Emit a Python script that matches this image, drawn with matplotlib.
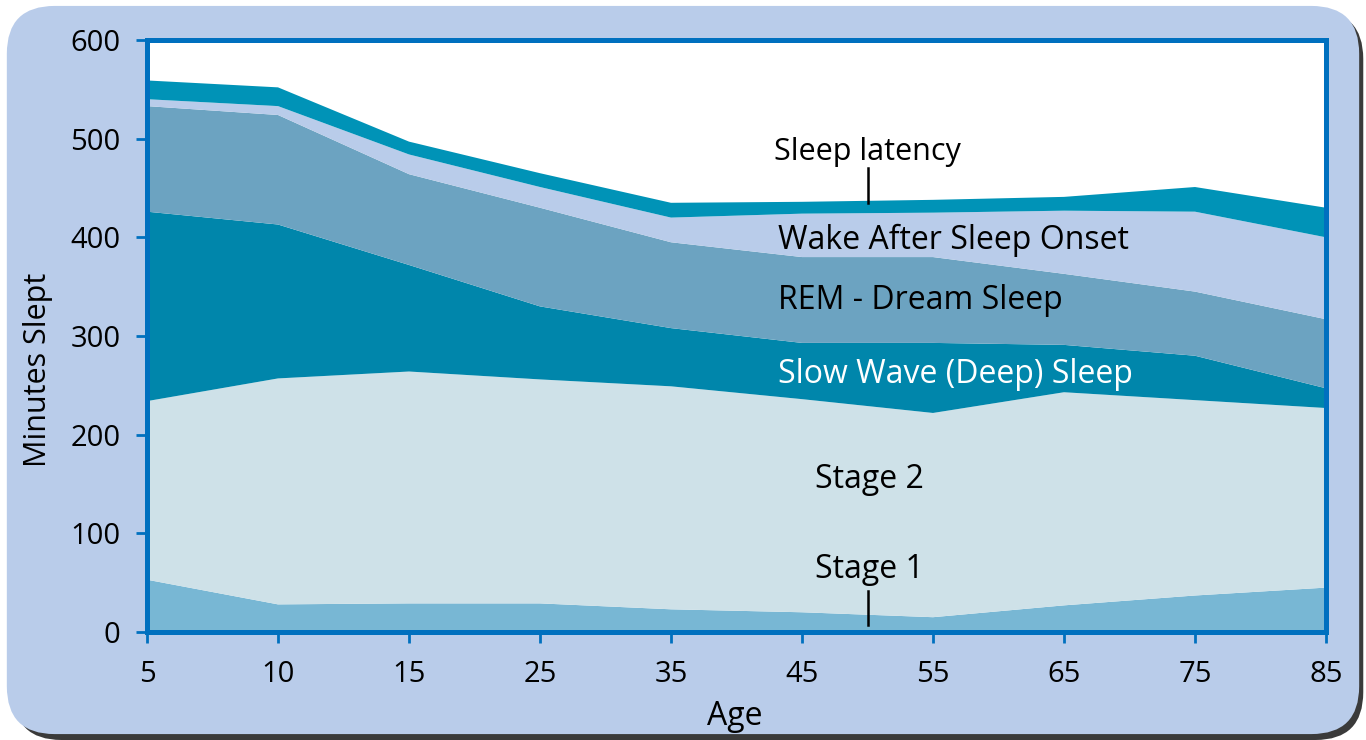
import matplotlib
matplotlib.use("Agg")
import matplotlib.pyplot as plt
from matplotlib.patches import FancyBboxPatch
import numpy as np

ages = ["5", "10", "15", "25", "35", "45", "55", "65", "75", "85"]
stage1 = [53, 28, 29, 29, 23, 20, 15, 27, 37, 45]
stage2 = [181, 229, 235, 227, 226, 216, 207, 216, 198, 182]
slow_wave = [192, 156, 108, 74, 59, 57, 71, 48, 45, 20]
rem = [107, 111, 92, 100, 87, 87, 87, 72, 65, 70]
waso = [7, 9, 20, 21, 25, 44, 45, 64, 81, 83]
latency = [19, 19, 13, 14, 15, 12, 13, 14, 25, 30]
y_ticks = [0, 100, 200, 300, 400, 500, 600]

colors = ["#78B7D4", "#CEE1E8", "#0086AB", "#6CA3C1", "#B9CCEA", "#0093B7"]
spine_c = "#0070BF"
bg = "#B9CCEA"

plt.rcParams['font.family'] = ['Open Sans', 'DejaVu Sans']

fig = plt.figure(figsize=(13.66, 7.40), dpi=100)
fig.patch.set_facecolor("white")

shadow = FancyBboxPatch((0.010, 0.0), 0.988, 0.985, boxstyle="round,pad=0,rounding_size=0.035",
                        transform=fig.transFigure, facecolor="#3a3a3a", edgecolor="none",
                        mutation_aspect=1366/740, zorder=-2)
fig.patches.append(shadow)
panel = FancyBboxPatch((0.005, 0.008), 0.99, 0.984, boxstyle="round,pad=0,rounding_size=0.035",
                       transform=fig.transFigure, facecolor=bg, edgecolor="none",
                       mutation_aspect=1366/740, zorder=-1)
fig.patches.append(panel)

ax = fig.add_axes([147/1366, 1-632/740, (1326-147)/1366, (632-40)/740])
ax.set_zorder(5)
ax.set_facecolor("white")
x = np.arange(len(ages))
ax.stackplot(x, stage1, stage2, slow_wave, rem, waso, latency, colors=colors, linewidth=0)
ax.set_xlim(0, len(ages) - 1)
ax.set_ylim(0, 600)
ax.set_xticks(x)
ax.set_xticklabels(ages)
ax.set_yticks(y_ticks)
for s in ax.spines.values():
    s.set_color(spine_c)
    s.set_linewidth(3.6)
ax.tick_params(axis="both", direction="out", length=8, width=2, color=spine_c,
               labelsize=21, labelcolor="black")
ax.tick_params(axis="x", pad=12)
ax.tick_params(axis="y", pad=11)
ax.set_xlabel("Age", fontsize=23)
ax.set_ylabel("Minutes Slept", fontsize=22)
ax.xaxis.set_label_coords((735 - 147) / 1179, (632 - 700) / 592)
ax.yaxis.set_label_coords((53 - 147) / 1179, (632 - 370) / 592)

fs = 23
ax.text(5.5, 486, "Sleep latency", fontsize=22, ha="center", va="center")
ax.plot([5.5, 5.5], [435, 470], color="black", lw=1.8)
ax.text(4.82, 397, "Wake After Sleep Onset", fontsize=fs, ha="left", va="center")
ax.text(4.82, 336, "REM - Dream Sleep", fontsize=fs, ha="left", va="center")
ax.text(4.82, 261, "Slow Wave (Deep) Sleep", fontsize=fs, ha="left", va="center", color="white")
ax.text(5.1, 155, "Stage 2", fontsize=fs, ha="left", va="center")
ax.text(5.1, 63, "Stage 1", fontsize=fs, ha="left", va="center")
ax.plot([5.5, 5.5], [7, 42], color="black", lw=1.8)

fig.savefig("out.png", dpi=100, facecolor=fig.get_facecolor())
